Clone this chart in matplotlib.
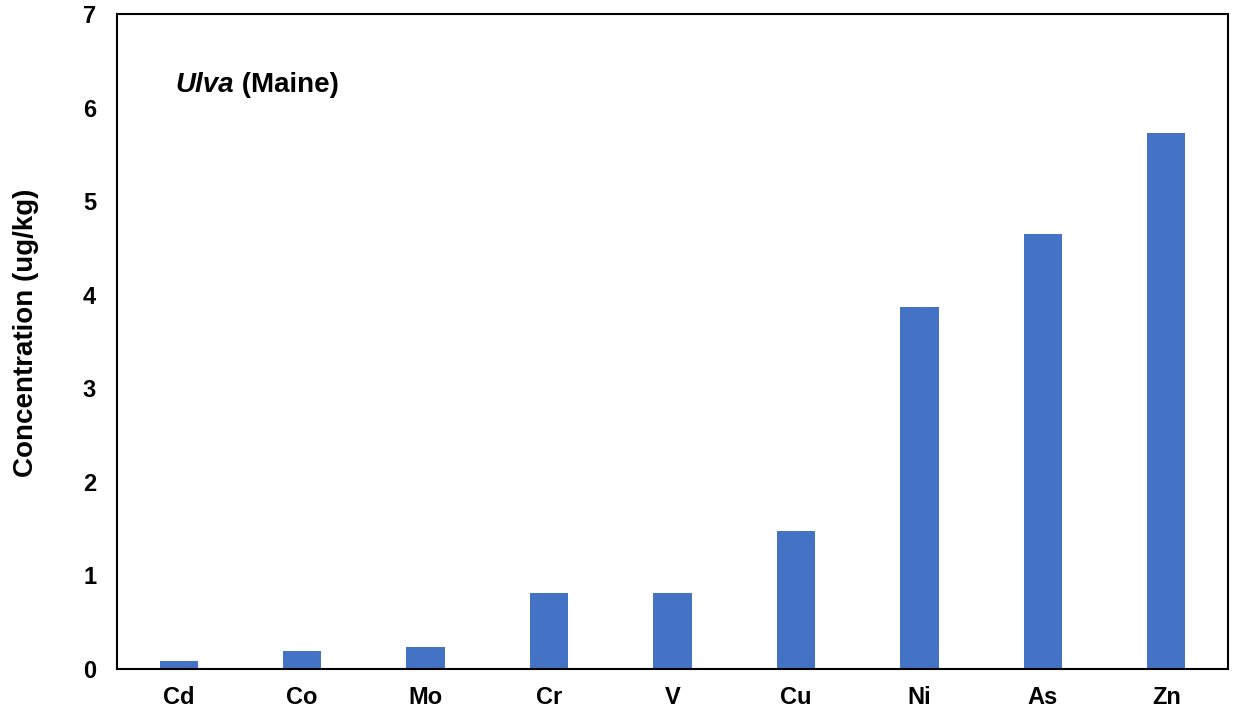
import matplotlib.pyplot as plt

elements = ['Cd', 'Co', 'Mo', 'Cr', 'V', 'Cu', 'Ni', 'As', 'Zn']
conc = [0.085, 0.19, 0.24, 0.81, 0.81, 1.475, 3.87, 4.65, 5.725]

plt.rcParams['font.family'] = ['Liberation Sans', 'DejaVu Sans']
plt.rcParams['font.weight'] = 'bold'

fig = plt.figure(figsize=(12.33, 7.13), dpi=100)
ax = fig.add_axes([117 / 1233, 44 / 713, 1111 / 1233, 655 / 713])

x = range(len(elements))
ax.bar(x, conc, width=0.31, color='#4472C4')
ax.set_xlim(-0.5, len(elements) - 0.5)
ax.set_ylim(0, 7)
ax.set_xticks(list(x))
ax.set_xticklabels(elements, fontsize=17, fontweight='bold')
ax.set_yticks(range(0, 8))
ax.tick_params(axis='both', length=0, labelsize=17)
ax.tick_params(axis='x', pad=12)
ax.tick_params(axis='y', pad=15)
for s in ax.spines.values():
    s.set_linewidth(1.5)
ax.set_ylabel('Concentration (ug/kg)', fontsize=20, fontweight='bold')
ax.yaxis.set_label_coords(-0.07, 0.513)

t = ax.text(0.053, 0.892, 'Ulva', transform=ax.transAxes, fontsize=20,
            fontstyle='italic', fontweight='bold', va='center')
ax.annotate(' (Maine)', xy=(1, 0.5), xycoords=t, fontsize=20,
            fontweight='bold', va='center')

fig.savefig('out.png', dpi=100)
